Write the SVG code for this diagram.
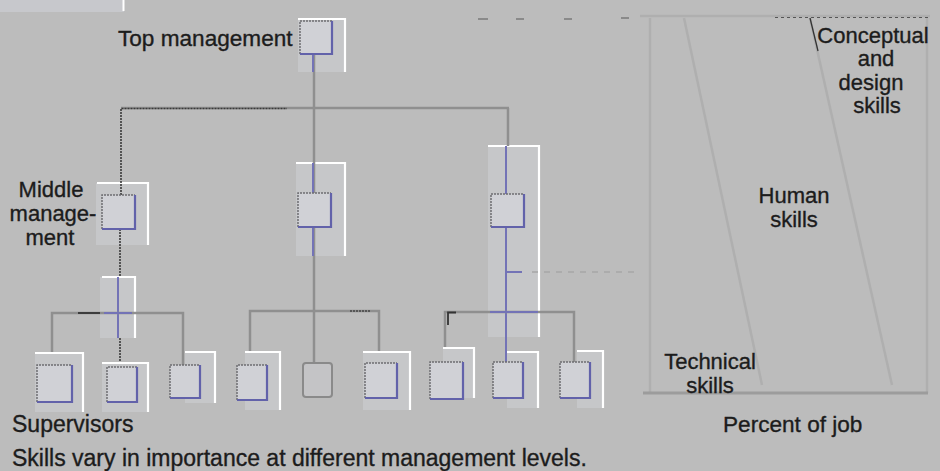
<svg xmlns="http://www.w3.org/2000/svg" width="940" height="471" viewBox="0 0 940 471">
<style>
  text { font-family: "Liberation Sans", Arial, Helvetica, sans-serif; font-size: 22px; fill: #1c1c1c; stroke: #1c1c1c; stroke-width: 0.35; }
  .c { text-anchor: middle; }
  .t225 { font-size: 22.6px; }
  .t23 { font-size: 23px; }
  .box { fill: #d0d1d6; }
  .lt { fill: none; stroke: #6e6e72; stroke-width: 1.5; stroke-dasharray: 2 1; }
  .rb { fill: none; stroke: #6262aa; stroke-width: 2.2; }
  .patch { fill: #c6c7c9; }
  .wb { fill: none; stroke: #ffffff; stroke-width: 2.2; }
  .ln { fill: none; stroke: #8f8f8f; stroke-width: 2.5; }
  .dk { fill: none; stroke: #3a3a3a; stroke-width: 1.6; stroke-dasharray: 2 1; }
  .bl { fill: none; stroke: #7373b6; stroke-width: 2; }
  .fa { fill: none; stroke: #afafaf; stroke-width: 2.5; }
  .fd { fill: none; stroke: #a6a6a6; stroke-width: 1.5; stroke-dasharray: 6 6; }
</style>
<rect x="0" y="0" width="940" height="471" fill="#bcbcbc"/>
<!-- top-left scan patch -->
<rect x="0" y="0" width="124" height="12" fill="#c7c8cc"/>
<line x1="123.5" y1="0" x2="123.5" y2="11" stroke="#ffffff" stroke-width="2"/>

<!-- light patches with white brackets -->
<g id="patches">
  <rect class="patch" x="298" y="19" width="47" height="53"/>
  <path class="wb" d="M298,19 H345 V72"/>
  <rect class="patch" x="96" y="183" width="52" height="62"/>
  <path class="wb" d="M97,183 H148 V245"/>
  <rect class="patch" x="296" y="163" width="49" height="93"/>
  <path class="wb" d="M296,163 H345 V256"/>
  <rect class="patch" x="488" y="146" width="51" height="191"/>
  <path class="wb" d="M488,146 H539 V337"/>
  <rect class="patch" x="100" y="277" width="35" height="61"/>
  <path class="wb" d="M102,277 H135 V338"/>
</g>

<!-- skills chart -->
<g id="skills-chart">
  <line class="fa" x1="640" y1="16" x2="930" y2="16"/>
  <line x1="775" y1="17.5" x2="930" y2="17.5" stroke="#555" stroke-width="1" stroke-dasharray="3 3"/>
  <line class="fa" x1="650" y1="18" x2="650" y2="393"/>
  <line class="fa" x1="927" y1="18" x2="927" y2="393"/>
  <line x1="643" y1="393" x2="928" y2="393" stroke="#9c9c9c" stroke-width="3"/>
  <line class="fa" x1="684" y1="18" x2="762" y2="385"/>
  <line class="fa" x1="810" y1="18" x2="892" y2="385"/>
  <line x1="810" y1="18" x2="818" y2="51" stroke="#333" stroke-width="1.3"/>
</g>

<!-- connectors -->
<g id="connectors">
  <!-- top chain -->
  <line class="ln" x1="314" y1="54" x2="314" y2="363"/>
  <line class="bl" x1="313" y1="54" x2="313" y2="72"/>
  <line class="bl" x1="313" y1="163" x2="313" y2="193"/>
  <line class="bl" x1="313" y1="227" x2="313" y2="256"/>
  <!-- top horizontal -->
  <line class="ln" x1="121" y1="108" x2="509" y2="108"/>
  <path class="dk" d="M121,195 V108.5 H287"/>
  <!-- right column drop -->
  <line class="ln" x1="508" y1="108" x2="508" y2="146"/>
  <line class="bl" x1="506" y1="146" x2="506" y2="362"/>
  <line class="bl" x1="506" y1="272" x2="522" y2="272"/>
  <line class="fd" x1="532" y1="272" x2="640" y2="272"/>
  <!-- left column -->
  <line class="dk" x1="120" y1="229" x2="120" y2="277"/>
  <line class="bl" x1="118" y1="277" x2="118" y2="338"/>
  <line class="dk" x1="120" y1="338" x2="120" y2="367"/>
  <!-- left group -->
  <path class="ln" d="M52,365 V313 H183 V365"/>
  <line x1="78" y1="313" x2="100" y2="313" stroke="#333" stroke-width="1.8"/>
  <line class="bl" x1="104" y1="313" x2="132" y2="313"/>
  <!-- middle group -->
  <path class="ln" d="M250,365 V311 H379 V363"/>
  <line x1="350" y1="311" x2="370" y2="311" stroke="#444" stroke-width="1.4" stroke-dasharray="2 1"/>
  <!-- right group -->
  <path class="ln" d="M445,362 V312 H574 V362"/>
  <path d="M448,325 V312.5 H456" fill="none" stroke="#333" stroke-width="1.8"/>
  <line class="bl" x1="490" y1="312" x2="538" y2="312"/>
  <!-- faint top dashes -->
  <g stroke="#6a6a6a" stroke-width="1.2">
    <line x1="478" y1="19" x2="488" y2="19"/>
    <line x1="516" y1="19" x2="524" y2="19"/>
    <line x1="564" y1="19" x2="572" y2="19"/>
    <line x1="621" y1="18" x2="629" y2="18"/>
  </g>
</g>

<!-- nodes -->
<g id="node-top">
  <rect class="box" x="300" y="21" width="32" height="33" rx="3"/>
  <path class="lt" d="M300,54 V21 H332"/>
  <path class="rb" d="M332,21 V54 H300"/>
</g>
<g id="node-mid1">
  <rect class="box" x="102" y="195" width="33" height="34" rx="3"/>
  <path class="lt" d="M102,229 V195 H135"/>
  <path class="rb" d="M135,195 V229 H102"/>
</g>
<g id="node-mid2">
  <rect class="box" x="298" y="193" width="33" height="34" rx="3"/>
  <path class="lt" d="M298,227 V193 H331"/>
  <path class="rb" d="M331,193 V227 H298"/>
</g>
<g id="node-mid3">
  <rect class="box" x="491" y="194" width="33" height="33" rx="3"/>
  <path class="lt" d="M491,227 V194 H524"/>
  <path class="rb" d="M524,194 V227 H491"/>
</g>

<!-- supervisor patches / brackets -->
<g id="sup-brackets">
  <rect class="patch" x="35" y="353" width="48" height="59"/>
  <path class="wb" d="M35,353 H83 V412"/>
  <rect class="patch" x="102" y="363" width="46" height="49"/>
  <path class="wb" d="M102,363 H148 V412"/>
  <rect class="patch" x="185" y="352" width="30" height="51"/>
  <path class="wb" d="M185,352 H215 V403"/>
  <rect class="patch" x="245" y="352" width="35" height="58"/>
  <path class="wb" d="M245,352 H280 V410"/>
  <rect class="patch" x="363" y="352" width="47" height="58"/>
  <path class="wb" d="M363,352 H410 V410"/>
  <rect class="patch" x="443" y="348" width="31" height="50"/>
  <path class="wb" d="M443,348 H474 V398"/>
  <rect class="patch" x="507" y="352" width="31" height="56"/>
  <path class="wb" d="M507,352 H538 V408"/>
  <rect class="patch" x="577" y="351" width="26" height="57"/>
  <path class="wb" d="M577,351 H603 V408"/>
</g>

<g id="node-s1">
  <rect class="box" x="37" y="365" width="35" height="37" rx="3"/>
  <path class="lt" d="M37,402 V365 H72"/>
  <path class="rb" d="M72,365 V402 H37"/>
</g>
<g id="node-s2">
  <rect class="box" x="107" y="367" width="30" height="35" rx="3"/>
  <path class="lt" d="M107,402 V367 H137"/>
  <path class="rb" d="M137,367 V402 H107"/>
</g>
<g id="node-s3">
  <rect class="box" x="170" y="365" width="30" height="33" rx="3"/>
  <path class="lt" d="M170,398 V365 H200"/>
  <path class="rb" d="M200,365 V398 H170"/>
</g>
<g id="node-s4">
  <rect class="box" x="237" y="365" width="30" height="35" rx="3"/>
  <path class="lt" d="M237,400 V365 H267"/>
  <path class="rb" d="M267,365 V400 H237"/>
</g>
<g id="node-s5">
  <rect x="303" y="363" width="29" height="34" rx="3" fill="#c4c4c6" stroke="#8a8a8a" stroke-width="2"/>
</g>
<g id="node-s6">
  <rect class="box" x="365" y="363" width="32" height="35" rx="3"/>
  <path class="lt" d="M365,398 V363 H397"/>
  <path class="rb" d="M397,363 V398 H365"/>
</g>
<g id="node-s7">
  <rect class="box" x="430" y="362" width="33" height="37" rx="3"/>
  <path class="lt" d="M430,399 V362 H463"/>
  <path class="rb" d="M463,362 V399 H430"/>
</g>
<g id="node-s8">
  <rect class="box" x="493" y="362" width="30" height="36" rx="3"/>
  <path class="lt" d="M493,398 V362 H523"/>
  <path class="rb" d="M523,362 V398 H493"/>
</g>
<g id="node-s9">
  <rect class="box" x="560" y="362" width="30" height="36" rx="3"/>
  <path class="lt" d="M560,398 V362 H590"/>
  <path class="rb" d="M590,362 V398 H560"/>
</g>

<!-- labels -->
<g id="labels">
  <text class="t225" x="118" y="46">Top management</text>
  <text class="c" x="51" y="197">Middle</text>
  <text class="c" x="53" y="221">manage-</text>
  <text class="c" x="50" y="245">ment</text>
  <text class="c" x="873" y="43">Conceptual</text>
  <text class="c" x="876" y="66">and</text>
  <text class="c" x="871" y="90">design</text>
  <text class="c" x="877" y="113">skills</text>
  <text class="c" x="794" y="203">Human</text>
  <text class="c" x="794" y="227">skills</text>
  <text class="c" x="710" y="369">Technical</text>
  <text class="c" x="710" y="393">skills</text>
  <text class="t225" x="723" y="432">Percent of job</text>
  <text class="t23" x="12" y="432">Supervisors</text>
  <text class="t23" x="12" y="466">Skills vary in importance at different management levels.</text>
</g>
</svg>
